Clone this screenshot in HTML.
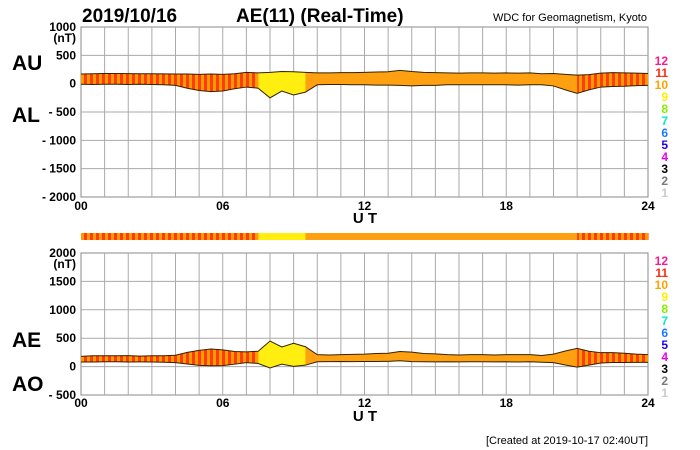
<!DOCTYPE html>
<html><head><meta charset="utf-8"><style>
body{margin:0;background:#fff;}
svg{display:block;font-family:"Liberation Sans",sans-serif;}
</style></head><body>
<svg id="chart" width="700" height="450" viewBox="0 0 700 450">
<defs>
<pattern id="stripe11" width="6" height="10" patternUnits="userSpaceOnUse">
<rect width="3" height="10" fill="#ff3b10"/><rect x="3" width="3" height="10" fill="#ff9a00"/>
</pattern>
</defs>
<text x="82" y="22" font-size="19" font-weight="bold">2019/10/16</text>
<text x="236" y="22" font-size="19" font-weight="bold">AE(11) (Real-Time)</text>
<text x="647" y="21" font-size="11" text-anchor="end">WDC for Geomagnetism, Kyoto</text>
<text x="12" y="70" font-size="21" font-weight="bold">AU</text>
<text x="12" y="122" font-size="21" font-weight="bold">AL</text>
<text x="12" y="347" font-size="21" font-weight="bold">AE</text>
<text x="12" y="391" font-size="21" font-weight="bold">AO</text>
<text x="648" y="444" font-size="11" text-anchor="end">[Created at 2019-10-17 02:40UT]</text>
<g id="g"></g>
</svg>
<script>
// half-hour samples 00:00..24:00 (49 points)
const hours = [0,0.5,1,1.5,2,2.5,3,3.5,4,4.5,5,5.5,6,6.5,7,7.5,8,8.5,9,9.5,10,10.5,11,11.5,12,12.5,13,13.5,14,14.5,15,15.5,16,16.5,17,17.5,18,18.5,19,19.5,20,20.5,21,21.5,22,22.5,23,23.5,24];
const auValues = [170,175,180,180,178,175,175,172,170,170,165,170,165,175,200,190,200,215,210,200,190,190,195,195,200,205,210,235,215,200,195,190,185,190,190,185,190,185,190,175,180,165,150,160,185,195,190,185,180];
const alValues = [-10,-15,-10,-10,-15,-10,-15,-20,-30,-80,-120,-140,-130,-90,-60,-80,-250,-130,-200,-150,-20,-15,-15,-20,-20,-25,-25,-30,-40,-30,-30,-20,-20,-20,-20,-20,-20,-25,-20,-20,-40,-110,-170,-110,-60,-50,-45,-35,-30];
// station-count class per half-hour segment (48)
const segClass = [11,11,11,11,11,11,11,11,11,11,11,11,11,11,11,9,9,9,9,10,10,10,10,10,10,10,10,10,10,10,10,10,10,10,10,10,10,10,10,10,10,10,11,11,11,11,11,11];
const topTicks = [1000,500,0,-500,-1000,-1500,-2000];
const botTicks = [2000,1500,1000,500,0,-500];
const xTickLabels = ["00","06","12","18","24"];
const legendLabels = ["12","11","10","9","8","7","6","5","4","3","2","1"];
const legendColors = ["#ff1a8c","#ff2a10","#ffa000","#ffee00","#88ee00","#00eecc","#1a7aff","#2200ee","#ee00ee","#000000","#777777","#cccccc"];

const NS="http://www.w3.org/2000/svg";
const g=document.getElementById('g');
const X0=81,X1=648;
const xs=h=>X0+(X1-X0)*h/24;
const yTop=v=>27+(1000-v)*(170/3000);
const yBot=v=>253+(2000-v)*(142/2500);
function el(t,a){const e=document.createElementNS(NS,t);for(const k in a)e.setAttribute(k,a[k]);g.appendChild(e);return e;}
function fillFor(c){return c===11?'url(#stripe11)':c===9?'#ffee10':'#ffa010';}

function panel(name,ys,ticks,yTopPx,yBotPx,upper,lower,xlabY,utY,legY){
  const frame=el('rect',{x:X0,y:yTopPx,width:X1-X0,height:yBotPx-yTopPx,fill:'#fff',stroke:'#888','stroke-width':1});
  
  
  for(let h=1;h<24;h++){const l=el('line',{x1:xs(h),x2:xs(h),y1:yTopPx,y2:yBotPx,stroke:'#aaa','stroke-width':1});
    
    }
  ticks.forEach((t,i)=>{
    if(i>0&&i<ticks.length-1){const l=el('line',{x1:X0,x2:X1,y1:ys(t),y2:ys(t),stroke:'#aaa','stroke-width':1});
      
      }
    const tx=el('text',{x:76,y:ys(t)+4,'font-size':12,'font-weight':'bold','text-anchor':'end'});
    tx.textContent=t<0?'- '+(-t):String(t);
    
    
  });
  const nt=el('text',{x:76,y:ys(ticks[0])+15,'font-size':12,'font-weight':'bold','text-anchor':'end'});nt.textContent='(nT)';
  
  
  // band
  let pts=hours.map((h,i)=>xs(h)+','+ys(upper[i]));
  for(let i=hours.length-1;i>=0;i--)pts.push(xs(hours[i])+','+ys(lower[i]));
  const cp=document.createElementNS(NS,'clipPath');cp.setAttribute('id','clip-'+name);
  const pp=document.createElementNS(NS,'polygon');pp.setAttribute('points',pts.join(' '));cp.appendChild(pp);g.appendChild(cp);
  const grp=el('g',{'clip-path':'url(#clip-'+name+')'});
  
  
  segClass.forEach((c,i)=>{const r=document.createElementNS(NS,'rect');
    r.setAttribute('x',xs(hours[i]));r.setAttribute('width',xs(hours[i+1])-xs(hours[i])+0.5);
    r.setAttribute('y',yTopPx);r.setAttribute('height',yBotPx-yTopPx);r.setAttribute('fill',fillFor(c));
    
    
    grp.appendChild(r);});
  const up=el('polyline',{points:hours.map((h,i)=>xs(h)+','+ys(upper[i])).join(' '),fill:'none',stroke:'#332200','stroke-width':1});
  
  
  const lo=el('polyline',{points:hours.map((h,i)=>xs(h)+','+ys(lower[i])).join(' '),fill:'none',stroke:'#332200','stroke-width':1});
  
  
  xTickLabels.forEach((s,i)=>{const t=el('text',{x:xs(i*6),y:xlabY,'font-size':12,'font-weight':'bold','text-anchor':'middle'});t.textContent=s;
    
    });
  const ut=el('text',{x:365,y:utY,'font-size':15,'font-weight':'bold','text-anchor':'middle'});ut.textContent='U T';
  
  
  legendLabels.forEach((s,i)=>{const t=el('text',{x:668,y:legY+i*12,'font-size':12,'font-weight':'bold','text-anchor':'end',fill:legendColors[i]});t.textContent=s;
    
    });
}
panel('top',yTop,topTicks,27,197,auValues,alValues,210,223,65);
const aeValues=auValues.map((u,i)=>u-alValues[i]);
const aoValues=auValues.map((u,i)=>(u+alValues[i])/2);
panel('bottom',yBot,botTicks,253,395,aeValues,aoValues,407,421,265);
// color bar
segClass.forEach((c,i)=>{const r=el('rect',{x:xs(hours[i]),y:233,width:xs(hours[i+1])-xs(hours[i])+0.5,height:7,fill:fillFor(c)});
  
  });
</script>
</body></html>
